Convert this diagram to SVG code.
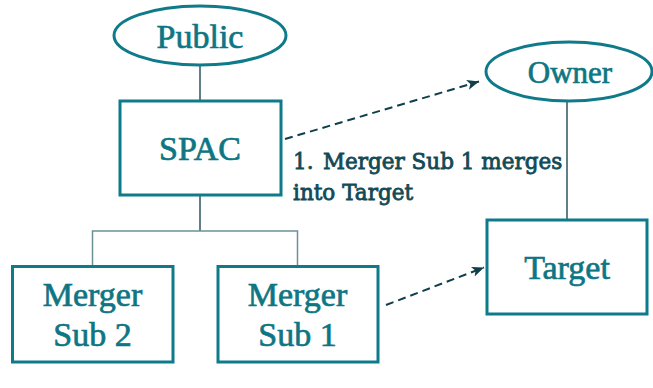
<svg xmlns="http://www.w3.org/2000/svg" width="653" height="388" viewBox="0 0 653 388">
  <defs>
    <style>
      .box { fill: #ffffff; stroke: #0f7a89; stroke-width: 3; }
      .oval { fill: #ffffff; stroke: #0f7a89; stroke-width: 3; }
      .lbl { font-family: "Liberation Serif", "Times New Roman", serif; fill: #0e7683; stroke: #0e7683; stroke-width: 0.7; text-anchor: middle; }
      .big { font-size: 34px; }
      .mid { font-size: 31px; }
      .line { fill: none; stroke: #2b5560; stroke-width: 1.5; }
      .tree { fill: none; stroke: #6b9198; stroke-width: 1.5; }
      .dash { fill: none; stroke: #0e3f4a; stroke-width: 2; stroke-dasharray: 8 5; }
      .note { font-family: "DejaVu Serif", "Liberation Serif", serif; font-size: 21.5px; fill: #124a56; stroke: #124a56; stroke-width: 0.8; }
    </style>
    <marker id="arr" markerUnits="userSpaceOnUse" markerWidth="14" markerHeight="12" refX="12" refY="5" orient="auto">
      <path d="M0,0 L12,5 L0,10 L3,5 Z" fill="#0e3f4a"/>
    </marker>
  </defs>

  <g id="connectors">
    <line class="line" x1="200" y1="65" x2="200" y2="100"/>
    <line class="line" x1="200" y1="195" x2="200" y2="231"/>
    <polyline class="tree" points="92.5,266 92.5,231 297.5,231 297.5,266"/>
    <line class="line" x1="567" y1="101" x2="567" y2="219"/>
    <line class="dash" x1="285" y1="139" x2="479" y2="81.5" marker-end="url(#arr)"/>
    <line class="dash" x1="386" y1="305" x2="484" y2="267.5" marker-end="url(#arr)"/>
    <text class="note"><tspan x="293" y="169">1.</tspan><tspan x="323" y="169">Merger Sub 1 merges</tspan><tspan x="293" y="200">into Target</tspan></text>
  </g>

  <g id="public">
    <ellipse class="oval" cx="200" cy="35.5" rx="86" ry="29.5"/>
    <text class="lbl big" x="200" y="48">Public</text>
  </g>

  <g id="spac">
    <rect class="box" x="120" y="101" width="161" height="94"/>
    <text class="lbl big" x="200" y="160">SPAC</text>
  </g>

  <g id="merger-sub-2">
    <rect class="box" x="12.5" y="266.5" width="160.5" height="95.5"/>
    <text class="lbl big" x="92.5" y="306">Merger</text>
    <text class="lbl big" x="92.5" y="346">Sub 2</text>
  </g>

  <g id="merger-sub-1">
    <rect class="box" x="218" y="266.5" width="160" height="95.5"/>
    <text class="lbl big" x="297.5" y="306">Merger</text>
    <text class="lbl big" x="297.5" y="346">Sub 1</text>
  </g>

  <g id="owner">
    <ellipse class="oval" cx="569" cy="71.5" rx="83" ry="29.5"/>
    <text class="lbl mid" x="570" y="83">Owner</text>
  </g>

  <g id="target">
    <rect class="box" x="487" y="220" width="160" height="94"/>
    <text class="lbl big" x="567" y="279">Target</text>
  </g>
</svg>
